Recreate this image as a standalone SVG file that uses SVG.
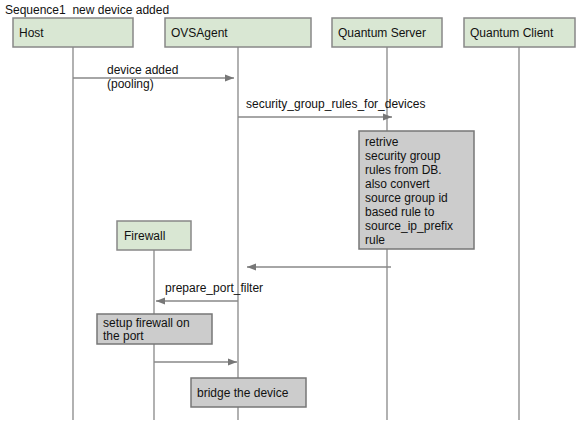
<svg xmlns="http://www.w3.org/2000/svg" width="577" height="426" viewBox="0 0 577 426">
<style>
text{font-family:"Liberation Sans",Arial,sans-serif;font-size:12px;fill:#111}
.actor{fill:#d9e7d3;stroke:#888;stroke-width:1.5}
.note{fill:#cccccc;stroke:#777;stroke-width:1.5}
.life{stroke:#888;stroke-width:1.3;fill:none}
.msg{stroke:#888;stroke-width:1.3;fill:none;marker-end:url(#ah)}
</style>
<defs>
<marker id="ah" markerWidth="10" markerHeight="8" refX="9" refY="4" orient="auto" markerUnits="userSpaceOnUse">
<path d="M0,0.5 L9,4 L0,7.5 Z" fill="#777"/>
</marker>
</defs>
<rect width="577" height="426" fill="#fff"/>
<text x="5" y="14" style="white-space:pre" xml:space="preserve">Sequence1  new device added</text>
<g id="lifelines">
<line class="life" x1="73" y1="47" x2="73" y2="420"/>
<line class="life" x1="238" y1="47" x2="238" y2="420"/>
<line class="life" x1="387" y1="47" x2="387" y2="420"/>
<line class="life" x1="519" y1="47" x2="519" y2="420"/>
<line class="life" x1="154" y1="250" x2="154" y2="420"/>
</g>
<g id="host"><rect class="actor" x="13" y="18" width="120" height="29"/><text x="19" y="37">Host</text></g>
<g id="ovsagent"><rect class="actor" x="165" y="18" width="146" height="29"/><text x="171" y="37">OVSAgent</text></g>
<g id="quantum-server"><rect class="actor" x="332" y="18" width="110" height="29"/><text x="338" y="37">Quantum Server</text></g>
<g id="quantum-client"><rect class="actor" x="464" y="18" width="111" height="29"/><text x="470" y="37">Quantum Client</text></g>
<g id="firewall"><rect class="actor" x="117" y="221" width="74" height="29"/><text x="124" y="240">Firewall</text></g>
<g id="connectors">
<line class="msg" x1="73" y1="78" x2="234" y2="78"/>
<line class="msg" x1="238" y1="117" x2="392" y2="117"/>
<line class="msg" x1="391" y1="267" x2="247" y2="267"/>
<line class="msg" x1="238" y1="301" x2="156" y2="301"/>
<line class="msg" x1="154" y1="362" x2="237" y2="362"/>
</g>
<g id="labels">
<text x="107" y="74">device added</text>
<text x="107" y="88">(pooling)</text>
<text x="246" y="108">security_group_rules_for_devices</text>
<text x="165" y="292">prepare_port_filter</text>
</g>
<g id="note-retrive"><rect class="note" x="359" y="131" width="115" height="118"/>
<text x="365" y="146">retrive</text>
<text x="365" y="160">security group</text>
<text x="365" y="174">rules from DB.</text>
<text x="365" y="188">also convert</text>
<text x="365" y="202">source group id</text>
<text x="365" y="216">based rule to</text>
<text x="365" y="230">source_ip_prefix</text>
<text x="365" y="244">rule</text>
</g>
<g id="note-setup"><rect class="note" x="97" y="314" width="115" height="30"/>
<text x="103" y="327">setup firewall on</text>
<text x="103" y="340">the port</text>
</g>
<g id="note-bridge"><rect class="note" x="191" y="378" width="115" height="29"/>
<text x="197" y="397">bridge the device</text>
</g>
</svg>
